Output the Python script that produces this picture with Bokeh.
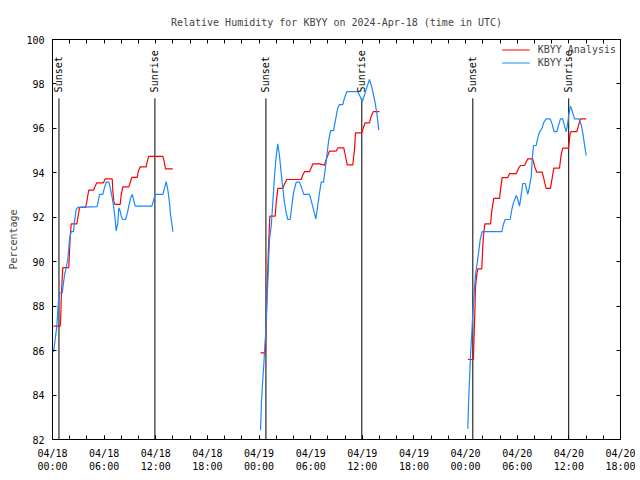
from bokeh.plotting import figure
from bokeh.models import Range1d, FixedTicker, LinearAxis, Legend, LegendItem, ColumnDataSource
from bokeh.core.properties import value
from bokeh.embed import file_html
from bokeh.resources import INLINE

TITLE = "Relative Humidity for KBYY on 2024-Apr-18 (time in UTC)"
Y_LABEL = "Percentage"

# x positions are hours since 04/18 00:00 UTC
X_TICK_HOURS = list(range(0, 67, 2))
X_LABEL_HOURS = [0, 6, 12, 18, 24, 30, 36, 42, 48, 54, 60, 66]
X_LABELS = ["04/18\n00:00", "04/18\n06:00", "04/18\n12:00", "04/18\n18:00",
            "04/19\n00:00", "04/19\n06:00", "04/19\n12:00", "04/19\n18:00",
            "04/20\n00:00", "04/20\n06:00", "04/20\n12:00", "04/20\n18:00"]
Y_TICKS = [82, 84, 86, 88, 90, 92, 94, 96, 98, 100]

SUNSET_H = [0.75, 24.80, 48.84]
SUNRISE_H = [11.90, 35.94, 59.98]

# KBYY Analysis (red)
ana_d1_h = [0.116, 0.895, 0.964, 1.011, 1.127, 1.197, 1.894, 2.057, 2.173, 2.824, 3.056, 3.137,
            3.834, 3.985, 4.102, 4.218, 4.764, 4.880, 5.148, 5.926, 6.124, 6.937, 7.007, 7.123,
            7.239, 7.867, 7.983, 8.169, 8.866, 9.063, 9.214, 9.842, 9.958, 10.190, 10.888, 11.004,
            11.190, 12.817, 12.933, 13.130, 13.979]
ana_d1_v = [87.10, 87.10, 87.55, 88.30, 89.28, 89.73, 89.73, 91.15, 91.70, 91.70, 92.23, 92.45,
            92.45, 92.68, 92.98, 93.22, 93.22, 93.33, 93.55, 93.55, 93.73, 93.73, 93.20, 92.73,
            92.58, 92.58, 93.00, 93.37, 93.37, 93.60, 93.80, 93.80, 94.05, 94.27, 94.27, 94.50,
            94.74, 94.74, 94.60, 94.18, 94.18]
ana_d2_h = [24.169, 24.750, 24.820, 24.960, 25.134, 25.250, 25.877, 25.993, 26.179, 26.760, 26.958,
            27.225, 28.898, 29.084, 29.282, 29.863, 30.246, 31.025, 31.606, 31.803, 32.187, 32.965,
            33.151, 33.848, 34.127, 34.244, 34.894, 35.092, 35.208, 35.940, 36.138, 36.335, 36.835,
            37.032, 37.265, 37.997]
ana_d2_v = [85.90, 85.90, 87.10, 89.10, 91.00, 92.05, 92.05, 92.65, 93.30, 93.30, 93.50,
            93.70, 93.70, 93.90, 94.05, 94.05, 94.40, 94.40, 94.35, 94.60, 94.98, 94.98,
            95.12, 95.12, 94.60, 94.36, 94.36, 95.05, 95.80, 95.80, 96.05, 96.25, 96.25,
            96.55, 96.75, 96.75]
ana_d3_h = [48.257, 48.919, 48.954, 49.070, 49.152, 49.303, 49.419, 49.884, 50.000, 50.081, 50.232,
            50.895, 51.046, 51.278, 51.940, 52.138, 52.254, 52.905, 53.102, 53.881, 54.183, 54.381,
            54.845, 55.229, 55.810, 56.007, 56.275, 56.902, 57.169, 57.367, 57.866, 58.064, 58.250,
            58.912, 59.110, 59.296, 59.958, 60.156, 60.272, 60.923, 61.155, 61.352, 62.015]
ana_d3_v = [85.60, 85.60, 86.28, 87.67, 88.86, 89.43, 89.68, 89.68, 90.70, 91.15, 91.70,
            91.70, 92.30, 92.85, 92.85, 93.48, 93.78, 93.78, 93.96, 93.96, 94.23, 94.33,
            94.33, 94.63, 94.63, 94.30, 94.03, 94.03, 93.60, 93.30, 93.30, 93.78, 94.21,
            94.21, 94.83, 95.11, 95.11, 95.80, 95.85, 95.85, 96.18, 96.43, 96.43]

# KBYY observations (blue)
obs_d1_h = [0.116, 0.314, 0.500, 0.616, 0.697, 0.813, 1.127, 1.278, 1.394, 1.592, 1.778, 1.975,
            2.173, 2.440, 2.556, 2.754, 2.940, 5.194, 5.345, 5.461, 5.845, 6.042, 6.240, 6.542,
            6.705, 6.937, 7.123, 7.286, 7.402, 7.588, 7.704, 7.867, 7.983, 8.169, 8.483, 8.680,
            8.866, 9.063, 9.261, 9.412, 9.610, 11.539, 11.736, 11.934, 12.817, 13.014, 13.212,
            13.398, 13.595, 13.711, 13.909, 13.979]
obs_d1_v = [85.93, 86.50, 87.10, 87.77, 88.22, 88.60, 88.60, 89.05, 89.40, 89.73, 90.10, 91.00,
            91.35, 91.35, 91.83, 92.35, 92.45, 92.48, 92.77, 93.03, 93.03, 93.33, 93.58, 93.58,
            93.33, 92.88, 92.43, 91.90, 91.39, 91.75, 92.43, 92.28, 92.05, 91.90, 91.90, 92.15,
            92.50, 92.85, 93.03, 92.80, 92.50, 92.50, 92.75, 93.03, 93.03, 93.30, 93.60,
            93.25, 92.65, 92.13, 91.60, 91.35]
obs_d2_h = [24.169, 24.286, 24.402, 24.553, 24.669, 24.832, 24.901, 25.017, 25.134, 25.215, 25.413,
            25.599, 25.796, 25.993, 26.179, 26.377, 26.574, 26.760, 26.958, 27.155, 27.341, 27.620,
            27.806, 28.004, 28.318, 28.701, 28.968, 29.201, 29.863, 30.131, 30.363, 30.595, 30.758,
            31.025, 31.222, 31.490, 31.687, 31.873, 32.071, 32.303, 32.652, 32.849, 33.151, 33.349,
            33.732, 33.930, 34.197, 35.475, 35.789, 35.986, 36.254, 36.568, 36.835, 37.102, 37.416,
            37.683, 37.915]
obs_d2_v = [82.42, 83.70, 84.50, 85.37, 86.20, 87.10, 88.08, 89.05, 90.25, 91.00, 91.60,
            92.65, 93.85, 94.75, 95.30, 94.75, 94.00, 93.30, 92.65, 92.20, 91.90, 91.90,
            92.50, 93.10, 93.58, 93.58, 93.30, 93.03, 93.03, 92.65, 92.30, 91.93, 92.35,
            93.10, 93.58, 93.58, 94.15, 94.75, 95.40, 95.90, 95.90, 96.30, 96.92, 97.07,
            97.07, 97.37, 97.65, 97.65, 97.40, 97.20, 97.50, 97.90, 98.20, 97.85, 97.30,
            96.70, 95.92]
obs_d3_h = [48.257, 48.373, 48.489, 48.605, 48.722, 48.838, 48.954, 49.152, 49.349, 49.535, 49.698,
            49.930, 52.208, 52.405, 52.603, 53.184, 53.370, 53.567, 53.881, 54.067, 54.265, 54.462,
            54.648, 54.927, 55.043, 55.229, 55.427, 55.624, 55.740, 55.892, 56.205, 56.391, 56.589,
            56.902, 57.053, 57.367, 57.832, 58.064, 58.296, 58.598, 58.831, 59.028, 59.296, 59.493,
            59.691, 59.877, 59.993, 60.190, 60.458, 60.655, 61.155, 61.434, 61.620, 61.817, 62.015]
obs_d3_v = [82.48, 83.95, 85.00, 86.05, 86.80, 87.70, 88.33, 89.43, 89.95, 90.47, 91.00,
            91.35, 91.35, 91.70, 91.90, 91.90, 92.35, 92.65, 92.98, 92.80, 92.50, 93.00,
            93.52, 93.52, 93.33, 93.03, 93.40, 93.82, 94.60, 95.23, 95.23, 95.58, 95.83,
            96.03, 96.25, 96.43, 96.43, 96.18, 95.85, 95.85, 96.18, 96.43, 96.43, 96.10,
            95.85, 96.25, 96.63, 97.00, 96.70, 96.43, 96.43, 96.18, 95.80, 95.27, 94.78]

FONT = "DejaVu Sans Mono"
FS = "10px"
RED = "#ff0000"
BLUE = "#1a87ff"

p = figure(frame_width=568, frame_height=400, output_backend="svg", toolbar_location=None,
           x_range=Range1d(0, 66), y_range=Range1d(82, 100),
           min_border_left=52, min_border_right=15, min_border_top=39, min_border_bottom=30,
           title=TITLE)
p.title.align = "center"
p.title.text_font = FONT
p.title.text_font_size = FS
p.title.text_font_style = "normal"
p.title.standoff = 23
p.xgrid.visible = False
p.ygrid.visible = False
p.outline_line_color = "black"
p.outline_line_alpha = 1.0
p.background_fill_color = "white"
p.border_fill_color = "white"


def style_axis(ax, major, minor):
    ax.ticker = FixedTicker(ticks=major, minor_ticks=minor)
    ax.axis_line_color = "black"
    ax.major_tick_line_color = "black"
    ax.minor_tick_line_color = "black"
    ax.major_tick_in = 4
    ax.major_tick_out = 0
    ax.minor_tick_in = 4
    ax.minor_tick_out = 0
    ax.major_label_text_font = FONT
    ax.major_label_text_font_size = FS
    ax.major_label_text_color = "black"
    ax.major_label_standoff = 8


style_axis(p.xaxis[0], X_LABEL_HOURS, X_TICK_HOURS)
p.xaxis[0].major_label_overrides = dict(zip(X_LABEL_HOURS, X_LABELS))
p.xaxis[0].major_label_standoff = 8

style_axis(p.yaxis[0], Y_TICKS, [])
p.yaxis[0].axis_label = Y_LABEL
p.yaxis[0].axis_label_text_font = FONT
p.yaxis[0].axis_label_text_font_size = FS
p.yaxis[0].axis_label_text_font_style = "normal"
p.yaxis[0].axis_label_standoff = 4

# mirrored ticks (no labels) on top and right
top_ax = LinearAxis()
style_axis(top_ax, [], X_TICK_HOURS)
top_ax.major_label_standoff = 0
p.add_layout(top_ax, "above")
right_ax = LinearAxis()
style_axis(right_ax, [], Y_TICKS)
right_ax.major_label_standoff = 0
p.add_layout(right_ax, "right")

# Sunset / Sunrise markers
ev_h = SUNSET_H + SUNRISE_H
ev_txt = ["Sunset"] * len(SUNSET_H) + ["Sunrise"] * len(SUNRISE_H)
ev_src = ColumnDataSource(dict(x=ev_h, y0=[82] * len(ev_h), y1=[97.35] * len(ev_h),
                               ty=[97.62] * len(ev_h), t=ev_txt))
p.segment(x0="x", y0="y0", x1="x", y1="y1", source=ev_src, line_color="black", line_width=1)

r_red = None
for hh, vv in [(ana_d1_h, ana_d1_v), (ana_d2_h, ana_d2_v), (ana_d3_h, ana_d3_v)]:
    r = p.line(hh, vv, line_color=RED, line_width=1.2)
    if r_red is None:
        r_red = r
r_blue = None
for hh, vv in [(obs_d1_h, obs_d1_v), (obs_d2_h, obs_d2_v), (obs_d3_h, obs_d3_v)]:
    r = p.line(hh, vv, line_color=BLUE, line_width=1.2)
    if r_blue is None:
        r_blue = r

p.text(x="x", y="ty", text="t", source=ev_src, angle=1.5708, text_align="left",
       text_baseline="middle", text_font=value(FONT), text_font_size=FS, text_color="black")

legend = Legend(items=[LegendItem(label="KBYY Analysis", renderers=[r_red]),
                       LegendItem(label="KBYY", renderers=[r_blue])],
                location="top_right", glyph_width=28, glyph_height=13, label_height=13,
                label_standoff=8, padding=2, margin=4, spacing=0,
                border_line_color=None, background_fill_alpha=0,
                label_text_font=FONT, label_text_font_size=FS)
p.add_layout(legend)

open("out.html", "w").write(file_html(p, INLINE))
